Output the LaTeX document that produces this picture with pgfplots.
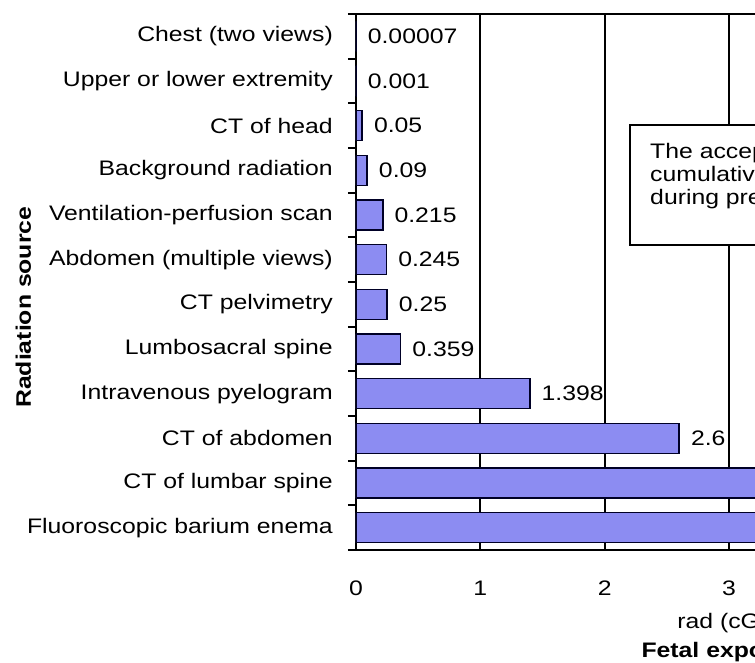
\documentclass[border=0pt]{standalone}
\usepackage{pgfplots}
\usepackage{pgfplotstable}
\pgfplotsset{compat=1.18}
\usepackage{fontspec}
\setmainfont[FakeStretch=1.18]{Liberation Sans}
\definecolor{barfill}{RGB}{140,140,242}

\pgfplotstableread{
y x label
0 0.00007 0.00007
1 0.001 0.001
2 0.05 0.05
3 0.09 0.09
4 0.215 0.215
5 0.245 0.245
6 0.25 0.25
7 0.359 0.359
8 1.398 1.398
9 2.6 2.6
10 3.5 3.5
11 3.986 3.986
}\datatable

\begin{document}
\fontsize{21}{25}\selectfont
\begin{tikzpicture}
\path[use as bounding box, clip] (0,0) rectangle (755pt,-663pt);
\begin{axis}[
  at={(356pt,-14pt)}, anchor=north west,
  scale only axis, width=746pt, height=536pt,
  xbar, bar width=30pt,
  y dir=reverse,
  xmin=0, xmax=6, ymin=-0.5, ymax=11.5,
  xtick={0,1,2,3,4,5,6},
  ytick={0,...,11},
  yticklabels={Chest (two views),Upper or lower extremity,CT of head,Background radiation,Ventilation-perfusion scan,Abdomen (multiple views),CT pelvimetry,Lumbosacral spine,Intravenous pyelogram,CT of abdomen,CT of lumbar spine,Fluoroscopic barium enema},
  minor ytick={-0.5,0.5,...,11.5},
  minor xtick={},
  major tick length=0pt,
  minor tick length=8pt,
  tick align=outside,
  ytick pos=left, xtick pos=bottom,
  tick style={black, line width=1.8pt},
  xmajorgrids,
  grid style={black, line width=2pt},
  axis line style={black, line width=2pt},
  /pgf/number format/assume math mode=true,
  xticklabel style={anchor=north, inner sep=0pt, yshift=-31pt},
  yticklabel style={anchor=east, inner sep=0pt, xshift=-23pt},
  xlabel={rad (cGy)\\[4pt]\textbf{Fetal exposure}},
  xlabel style={at={(axis description cs:0.5,0)}, anchor=north, yshift=-63pt, align=center, inner sep=0pt},
  ylabel={\textbf{Radiation source}},
  ylabel style={at={(axis description cs:-0.446,0.453)}, anchor=center, rotate=0, inner sep=0pt},
  nodes near coords,
  point meta=explicit symbolic,
  every node near coord/.append style={anchor=west, inner sep=0pt, xshift=11pt, black},
]
\addplot[fill=barfill, draw=black!85!blue, line width=1.6pt] table[x=x, y=y, meta=label] {\datatable};
\draw[black, line width=1.8pt, fill=white] (axis cs:2.204,1.985) rectangle (axis cs:5.6,4.67);
\node[anchor=north west, align=left, inner sep=0pt, xshift=20pt, yshift=-18pt, font=\fontsize{21}{23}\selectfont] at (axis cs:2.204,1.985) {The acceptable\\cumulative dose\\during pregnancy is 5 rad};
\end{axis}
\end{tikzpicture}
\end{document}
